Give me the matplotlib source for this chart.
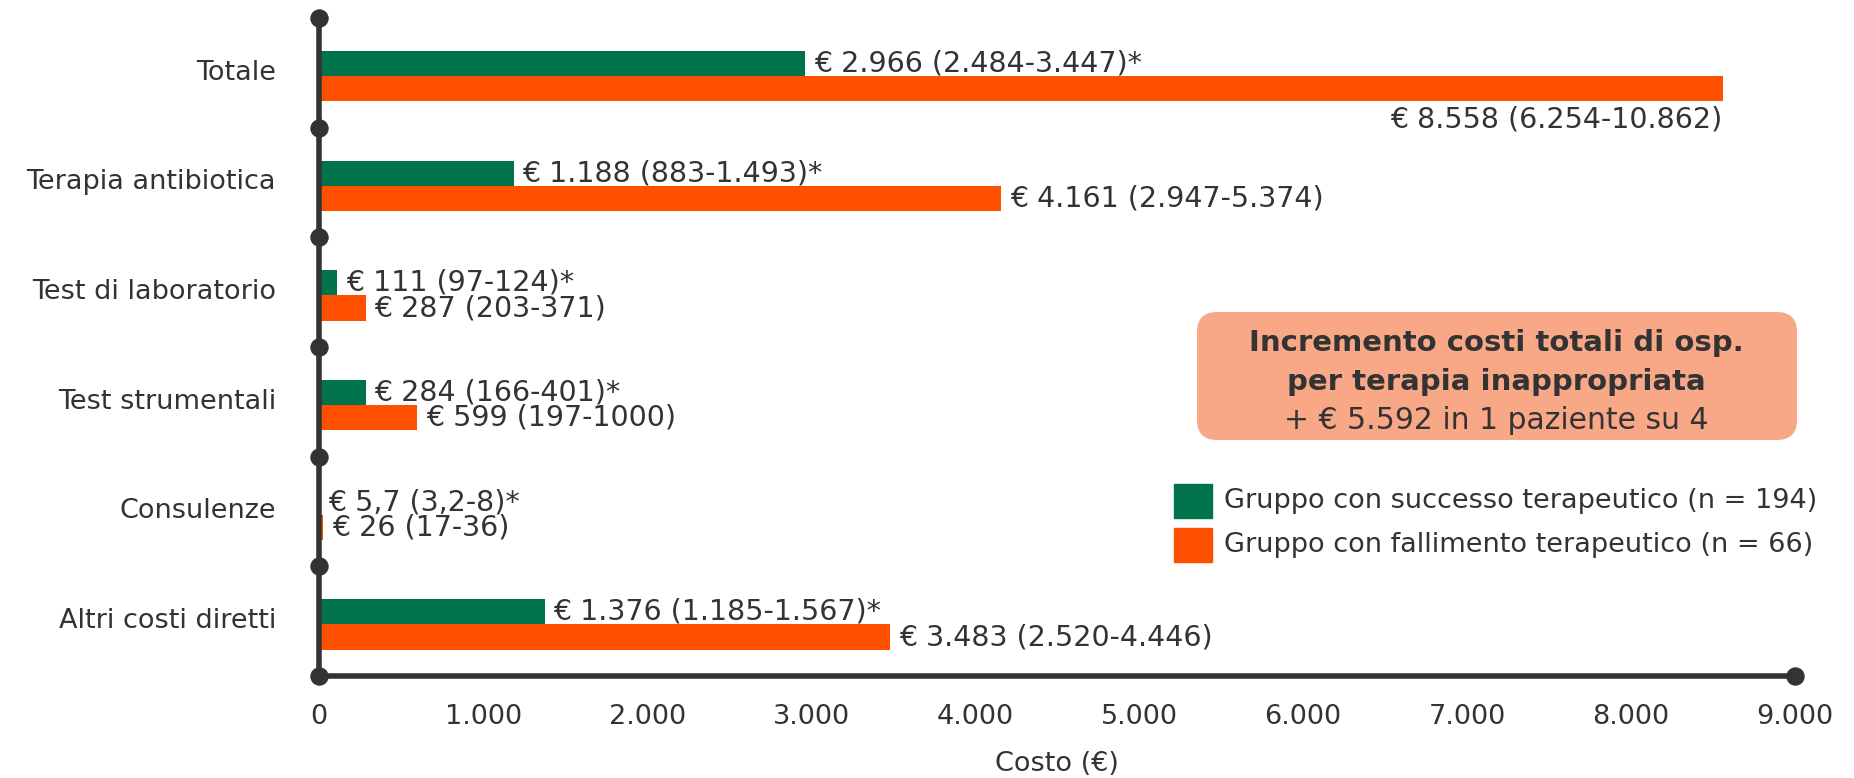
import numpy as np
import matplotlib.pyplot as plt
from matplotlib.patches import FancyBboxPatch

plt.rcParams['font.family'] = ['DejaVu Sans']

categorie = ['Totale', 'Terapia antibiotica', 'Test di laboratorio',
             'Test strumentali', 'Consulenze', 'Altri costi diretti']
successo = [2966, 1188, 111, 284, 5.7, 1376]
fallimento = [8558, 4161, 287, 599, 26, 3483]
etich_succ = ['€ 2.966 (2.484-3.447)*', '€ 1.188 (883-1.493)*', '€ 111 (97-124)*',
              '€ 284 (166-401)*', '€ 5,7 (3,2-8)*', '€ 1.376 (1.185-1.567)*']
etich_fall = ['€ 8.558 (6.254-10.862)', '€ 4.161 (2.947-5.374)', '€ 287 (203-371)',
              '€ 599 (197-1000)', '€ 26 (17-36)', '€ 3.483 (2.520-4.446)']
xticks = [0, 1000, 2000, 3000, 4000, 5000, 6000, 7000, 8000, 9000]
xticklabels = ['0', '1.000', '2.000', '3.000', '4.000', '5.000',
               '6.000', '7.000', '8.000', '9.000']

verde = '#00734a'
arancio = '#ff5000'
scuro = '#333333'
testo = '#333333'

fig = plt.figure(figsize=(18.54, 7.78), dpi=100)
ax = fig.add_axes([0.1721, 0.1311, 0.7961, 0.8458])

y = np.arange(len(categorie))
h = 0.23
off = 0.03
ax.barh(y + off - h / 2, successo, height=h, color=verde)
ax.barh(y + off + h / 2, fallimento, height=h, color=arancio)

fs = 19.5
fs_val = 20.5
for i in range(len(categorie)):
    ax.annotate(etich_succ[i], (successo[i], y[i] + off - h / 2), xytext=(6, 0),
                textcoords='offset points', va='center', ha='left',
                fontsize=fs_val, color=testo)
    if fallimento[i] > 7000:
        # etichetta sotto la barra quando la barra è troppo lunga
        ax.annotate(etich_fall[i], (fallimento[i], y[i] + off + h), xytext=(0, -3),
                    textcoords='offset points', va='top', ha='right',
                    fontsize=fs_val, color=testo)
    else:
        ax.annotate(etich_fall[i], (fallimento[i], y[i] + off + h / 2), xytext=(6, 0),
                    textcoords='offset points', va='center', ha='left',
                    fontsize=fs_val, color=testo)

ax.set_xlim(0, 9000)
ax.set_ylim(len(categorie) - 0.5, -0.5)
for s in ax.spines.values():
    s.set_visible(False)

# assi disegnati a mano con pallini ai separatori
bordi = np.arange(len(categorie) + 1) - 0.5
ax.plot([0, 0], [bordi[0], bordi[-1]], color=scuro, lw=4, clip_on=False, zorder=5)
ax.plot([0, 9000], [bordi[-1], bordi[-1]], color=scuro, lw=4, clip_on=False, zorder=5)
ax.scatter(np.zeros(len(bordi)), bordi, s=150, color=scuro, clip_on=False, zorder=6)
ax.scatter([9000], [bordi[-1]], s=150, color=scuro, clip_on=False, zorder=6)

ax.set_yticks(y - 0.03)
ax.set_yticklabels(categorie, fontsize=fs, color=testo)
ax.set_xticks(xticks)
ax.set_xticklabels(xticklabels, fontsize=fs, color=testo)
ax.tick_params(axis='both', length=0)
ax.tick_params(axis='y', pad=31)
ax.tick_params(axis='x', pad=20)
ax.set_xlabel('Costo (€)', fontsize=fs, color=testo, labelpad=15)

# riquadro con l'incremento dei costi (coordinate in pollici)
box = FancyBboxPatch((11.97, 3.38), 6.0, 1.28,
                     boxstyle='round,pad=0,rounding_size=0.2',
                     transform=fig.dpi_scale_trans, facecolor='#f9a887', edgecolor='none')
fig.patches.append(box)
fig.text(0.807, 0.559, 'Incremento costi totali di osp.', ha='center', va='center',
         fontsize=21, fontweight='bold', color=testo)
fig.text(0.807, 0.509, 'per terapia inappropriata', ha='center', va='center',
         fontsize=21, fontweight='bold', color=testo)
fig.text(0.807, 0.460, '+ € 5.592 in 1 paziente su 4', ha='center', va='center',
         fontsize=21.5, color=testo)

# legenda
for yy, col, lab in [(0.356, verde, 'Gruppo con successo terapeutico (n = 194)'),
                     (0.299, arancio, 'Gruppo con fallimento terapeutico (n = 66)')]:
    fig.patches.append(plt.Rectangle((0.6330, yy - 0.022), 0.0205, 0.044,
                                     transform=fig.transFigure, color=col))
    fig.text(0.660, yy, lab, ha='left', va='center', fontsize=fs, color=testo)

fig.savefig('out.png', dpi=100, facecolor='white')
